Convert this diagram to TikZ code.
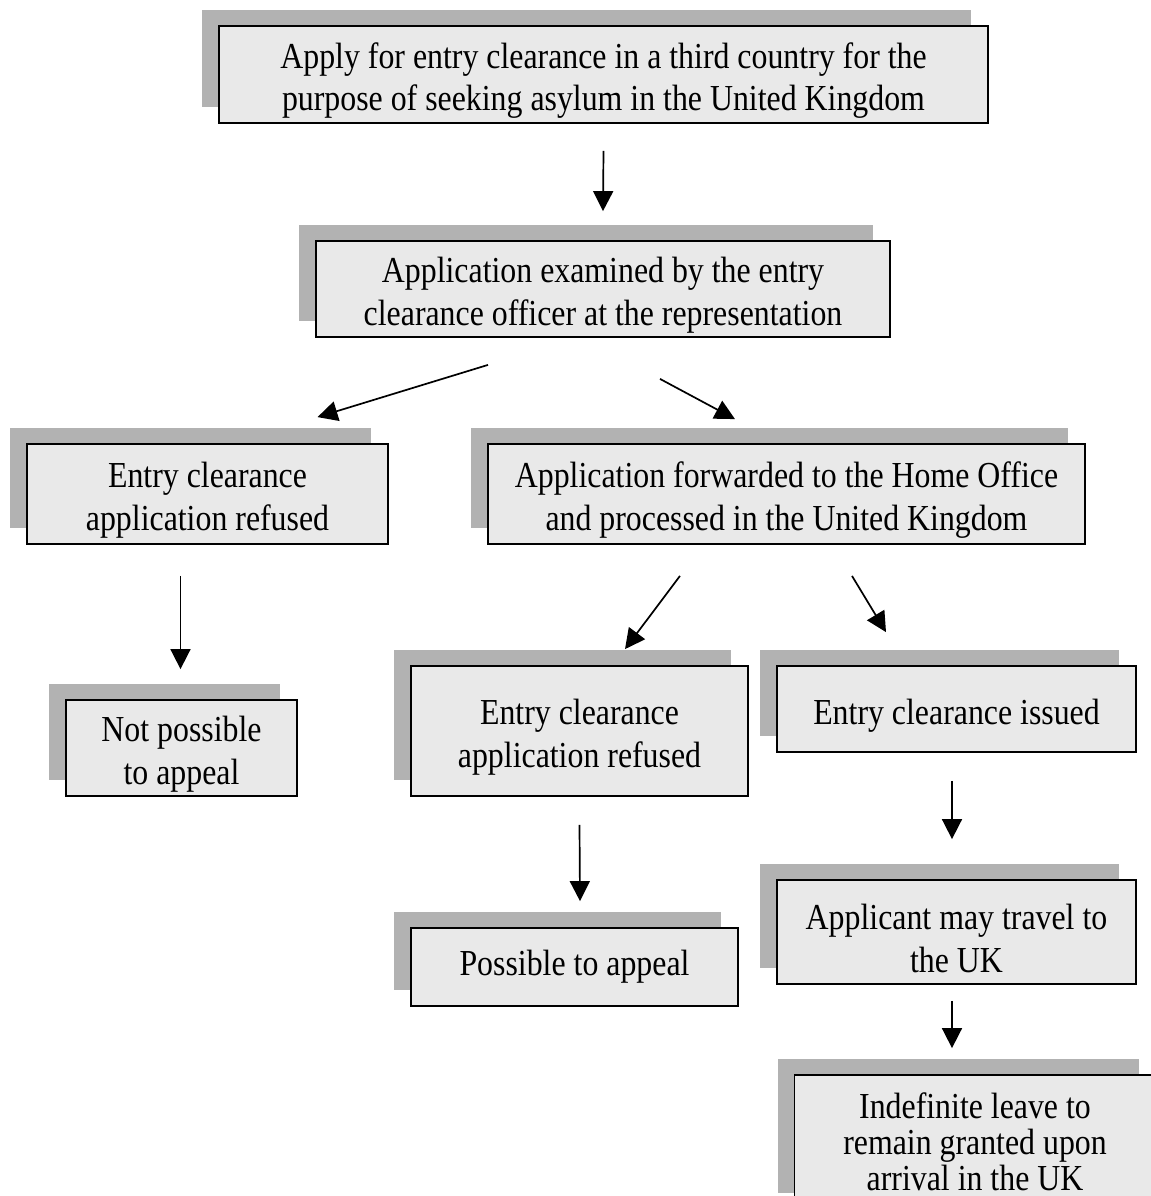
\documentclass[tikz,border=0pt]{standalone}
\usepackage{fontspec}
\setmainfont{Liberation Serif}[FakeStretch=0.87]
\usetikzlibrary{arrows.meta,shadows}
\definecolor{boxgray}{HTML}{E9E9E9}
\definecolor{shadegray}{HTML}{B2B2B2}
\newcommand{\gap}{\rule{0pt}{19pt}}
\begin{document}
\begin{tikzpicture}[x=0.5pt,y=-0.5pt,
  box/.style={shape=rectangle,draw=black,line width=0.9pt,fill=boxgray,align=center,
    inner sep=0pt,font=\fontsize{18.3pt}{21.3pt}\selectfont,
    drop shadow={shadow xshift=-8.5pt,shadow yshift=8pt,fill=shadegray,opacity=1}},
  arr/.style={line width=0.85pt,-{Triangle[length=10pt,width=10pt]}}]
\useasboundingbox (0,0) rectangle (1151,1196);
\clip (0,0) rectangle (1151,1196);
\node[box,minimum width=384.5pt,minimum height=48.5pt] (apply) at (603.5,74.5) {\gap Apply for entry clearance in a third country for the\\purpose of seeking asylum in the United Kingdom};
\node[box,minimum width=287pt,minimum height=48pt] (exam) at (603,289) {\gap Application examined by the entry\\clearance officer at the representation};
\node[box,minimum width=180.5pt,minimum height=50pt] (refusedA) at (207.5,494) {\gap Entry clearance\\application refused};
\node[box,minimum width=298.5pt,minimum height=50pt] (fwd) at (786.5,494) {\gap Application forwarded to the Home Office\\and processed in the United Kingdom};
\node[box,minimum width=115.5pt,minimum height=48pt] (noappeal) at (181.5,748) {\gap Not possible\\to appeal};
\node[box,minimum width=168.5pt,minimum height=65pt] (refusedB) at (579.5,731) {\gap Entry clearance\\application refused};
\node[box,minimum width=179.5pt,minimum height=43pt] (issued) at (956.5,709) {\gap Entry clearance issued};
\node[box,minimum width=163.5pt,minimum height=39pt] (appeal) at (574.5,967) {Possible to appeal};
\node[box,minimum width=179.5pt,minimum height=52pt] (travel) at (956.5,932) {\gap Applicant may travel to\\the UK};
\node[box,font=\fontsize{18.3pt}{18pt}\selectfont,minimum width=180.5pt,minimum height=67pt] (leave) at (975,1142) {Indefinite leave to\\remain granted upon\\arrival in the UK};
\draw [arr] ([yshift=-13.5pt]apply.south) -- ([yshift=14.5pt]exam.north);
\draw [arr] ([xshift=-57.5pt,yshift=-13.5pt]exam.south) -- ([xshift=55pt,yshift=13pt]refusedA.north);
\draw [arr] ([xshift=28.5pt,yshift=-20.5pt]exam.south) -- ([xshift=-25.75pt,yshift=12pt]fwd.north);
\draw [arr] ([xshift=-13.5pt,yshift=-15.5pt]refusedA.south) -- ([xshift=-0.5pt,yshift=15pt]noappeal.north);
\draw [arr] ([xshift=-53.25pt,yshift=-15.5pt]fwd.south) -- ([xshift=22.75pt,yshift=8pt]refusedB.north);
\draw [arr] ([xshift=32.75pt,yshift=-15.5pt]fwd.south) -- ([xshift=-35.25pt,yshift=16.5pt]issued.north);
\draw [arr] ([yshift=-14pt]refusedB.south) -- ([xshift=2.75pt,yshift=13pt]appeal.north);
\draw [arr] ([xshift=-2.25pt,yshift=-14pt]issued.south) -- ([xshift=-2.25pt,yshift=20pt]travel.north);
\draw [arr] ([xshift=-2.25pt,yshift=-8pt]travel.south) -- ([xshift=-11.5pt,yshift=13pt]leave.north);
\end{tikzpicture}
\end{document}
